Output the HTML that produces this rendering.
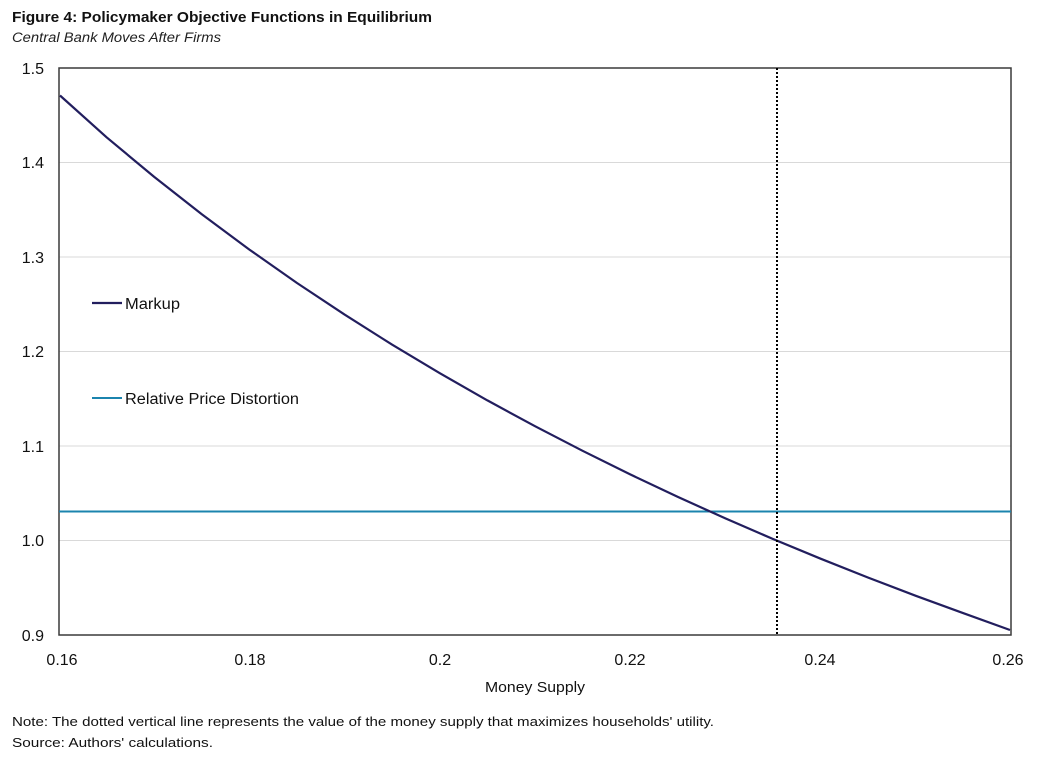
<!DOCTYPE html>
<html><head><meta charset="utf-8"><style>
html,body{margin:0;padding:0;background:#fff;}
svg{display:block;}
text{font-family:"Liberation Sans",sans-serif;}
</style></head><body>
<svg width="1044" height="758" viewBox="0 0 1044 758" xmlns="http://www.w3.org/2000/svg">
<rect width="1044" height="758" fill="#fff"/>
<text x="12" y="22" font-size="15" font-weight="bold" fill="#111" textLength="420" lengthAdjust="spacingAndGlyphs">Figure 4: Policymaker Objective Functions in Equilibrium</text>
<text x="12" y="42" font-size="13.5" font-style="italic" fill="#222" textLength="209" lengthAdjust="spacingAndGlyphs">Central Bank Moves After Firms</text>
<g stroke="#d9d9d9" stroke-width="1">
<line x1="59" y1="162.5" x2="1011" y2="162.5"/>
<line x1="59" y1="257" x2="1011" y2="257"/>
<line x1="59" y1="351.5" x2="1011" y2="351.5"/>
<line x1="59" y1="446" x2="1011" y2="446"/>
<line x1="59" y1="540.5" x2="1011" y2="540.5"/>
</g>
<rect x="59" y="68" width="952" height="567" fill="none" stroke="#3a3a3a" stroke-width="1.5"/>
<g font-size="16" fill="#111" text-anchor="end">
<text x="44" y="74">1.5</text>
<text x="44" y="168">1.4</text>
<text x="44" y="263">1.3</text>
<text x="44" y="357">1.2</text>
<text x="44" y="452">1.1</text>
<text x="44" y="546">1.0</text>
<text x="44" y="641">0.9</text>
</g>
<g font-size="16" fill="#111" text-anchor="middle">
<text x="62" y="665">0.16</text>
<text x="250" y="665">0.18</text>
<text x="440" y="665">0.2</text>
<text x="630" y="665">0.22</text>
<text x="820" y="665">0.24</text>
<text x="1008" y="665">0.26</text>
</g>
<text x="485" y="692" font-size="15" fill="#111" textLength="100" lengthAdjust="spacingAndGlyphs">Money Supply</text>
<line x1="59" y1="511.5" x2="1011" y2="511.5" stroke="#1b84ae" stroke-width="2"/>
<polyline fill="none" stroke="#221e5e" stroke-width="2.2" stroke-linejoin="round" points="60,95.5 106.6,137.3 154.2,176.9 201.8,214.3 249.4,249.6 297,283 344.6,314.6 392.2,344.7 439.8,373.2 487.4,400.4 535,426.2 582.6,450.8 630.2,474.4 677.8,496.9 725.4,518.4 773,539 820.6,558.7 868.2,577.6 915.8,595.8 963.4,613.2 1010,630"/>
<line x1="777" y1="68" x2="777" y2="635" stroke="#000" stroke-width="2" stroke-dasharray="2,2"/>
<line x1="92" y1="303" x2="122" y2="303" stroke="#221e5e" stroke-width="2.2"/>
<text x="125" y="309" font-size="15.5" fill="#111" textLength="55" lengthAdjust="spacingAndGlyphs">Markup</text>
<line x1="92" y1="398" x2="122" y2="398" stroke="#1b84ae" stroke-width="2"/>
<text x="125" y="404" font-size="15.5" fill="#111" textLength="174" lengthAdjust="spacingAndGlyphs">Relative Price Distortion</text>
<text x="12" y="726" font-size="13" fill="#111" textLength="702" lengthAdjust="spacingAndGlyphs">Note: The dotted vertical line represents the value of the money supply that maximizes households' utility.</text>
<text x="12" y="747" font-size="13" fill="#111" textLength="201" lengthAdjust="spacingAndGlyphs">Source: Authors' calculations.</text>
</svg>
</body></html>
